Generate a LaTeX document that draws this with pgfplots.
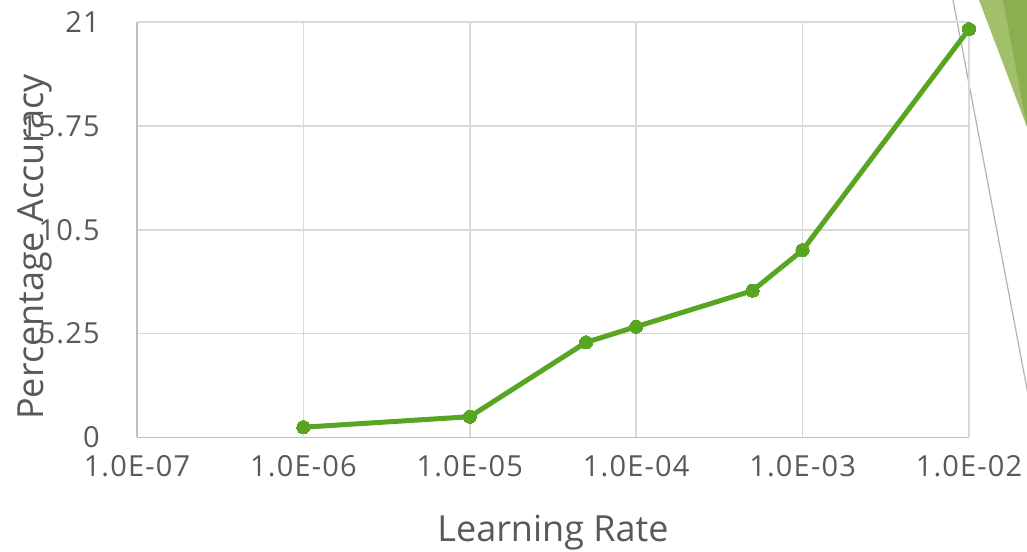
\documentclass[border=0pt]{standalone}
\usepackage{fontspec}
\setmainfont{Open Sans}
\usepackage{pgfplots}
\pgfplotsset{compat=1.18}
\definecolor{txtgray}{HTML}{595959}
\definecolor{gridgray}{HTML}{D9D9D9}
\definecolor{axgray}{HTML}{BFBFBF}
\definecolor{linegreen}{HTML}{57A521}
\definecolor{trilight}{HTML}{A2BF6C}
\definecolor{tridark}{HTML}{8BAE4E}

\begin{document}
\begin{tikzpicture}
\useasboundingbox (0,0) rectangle (513.5pt,275.5pt);
% decoration at the top right (pixel coordinates, 1px = 0.5pt)
\begin{scope}[x=0.5pt,y=0.5pt]
\fill[trilight] (979,551) -- (1027,551) -- (1027,424) -- cycle;
\fill[tridark] (1003,551) -- (1027,551) -- (1027,424) -- cycle;
\draw[gray!60, line width=0.6pt] (953,551) -- (1035,120);
\end{scope}

\begin{axis}[
    at={(68.5pt,56.75pt)}, anchor=south west,
    scale only axis,
    width=416pt, height=207.75pt,
    xmode=log,
    xmin=1e-7, xmax=1e-2,
    ymin=0, ymax=21,
    xtick={1e-7,1e-6,1e-5,1e-4,1e-3,1e-2},
    xticklabels={1.0E-07,1.0E-06,1.0E-05,1.0E-04,1.0E-03,1.0E-02},
    ytick={0,5.25,10.5,15.75,21},
    yticklabels={0,5.25,10.5,15.75,21},
    xminorticks=false,
    major tick length=0pt,
    minor tick length=0pt,
    grid=major,
    major grid style={gridgray, line width=0.8pt},
    axis lines*=left,
    axis line style={axgray, line width=0.9pt, -},
    font=\fontsize{14.5}{16}\selectfont\addfontfeature{LetterSpace=4},
    tick label style={txtgray, inner sep=0pt},
    xticklabel style={anchor=north, yshift=-9pt},
    yticklabel style={anchor=east, xshift=-18.5pt},
    xlabel={Learning Rate},
    ylabel={Percentage Accuracy},
    label style={txtgray, font=\fontsize{18}{20}\selectfont},
    xlabel style={at={(axis description cs:0.5,0)}, anchor=center, yshift=-47.75pt},
    ylabel style={at={(axis description cs:0,0.5)}, anchor=center, xshift=-8.6pt, yshift=51pt},
    clip=false,
]
\addplot[color=linegreen, line width=2.5pt, mark=*, mark size=3.3pt,
    mark options={fill=linegreen, draw=linegreen, line width=0pt}] coordinates {
    (1e-6, 0.52) (1e-5, 1.05) (5e-5, 4.81) (1e-4, 5.60)
    (5e-4, 7.42) (1e-3, 9.47) (1e-2, 20.64)
};
\end{axis}
\end{tikzpicture}
\end{document}
